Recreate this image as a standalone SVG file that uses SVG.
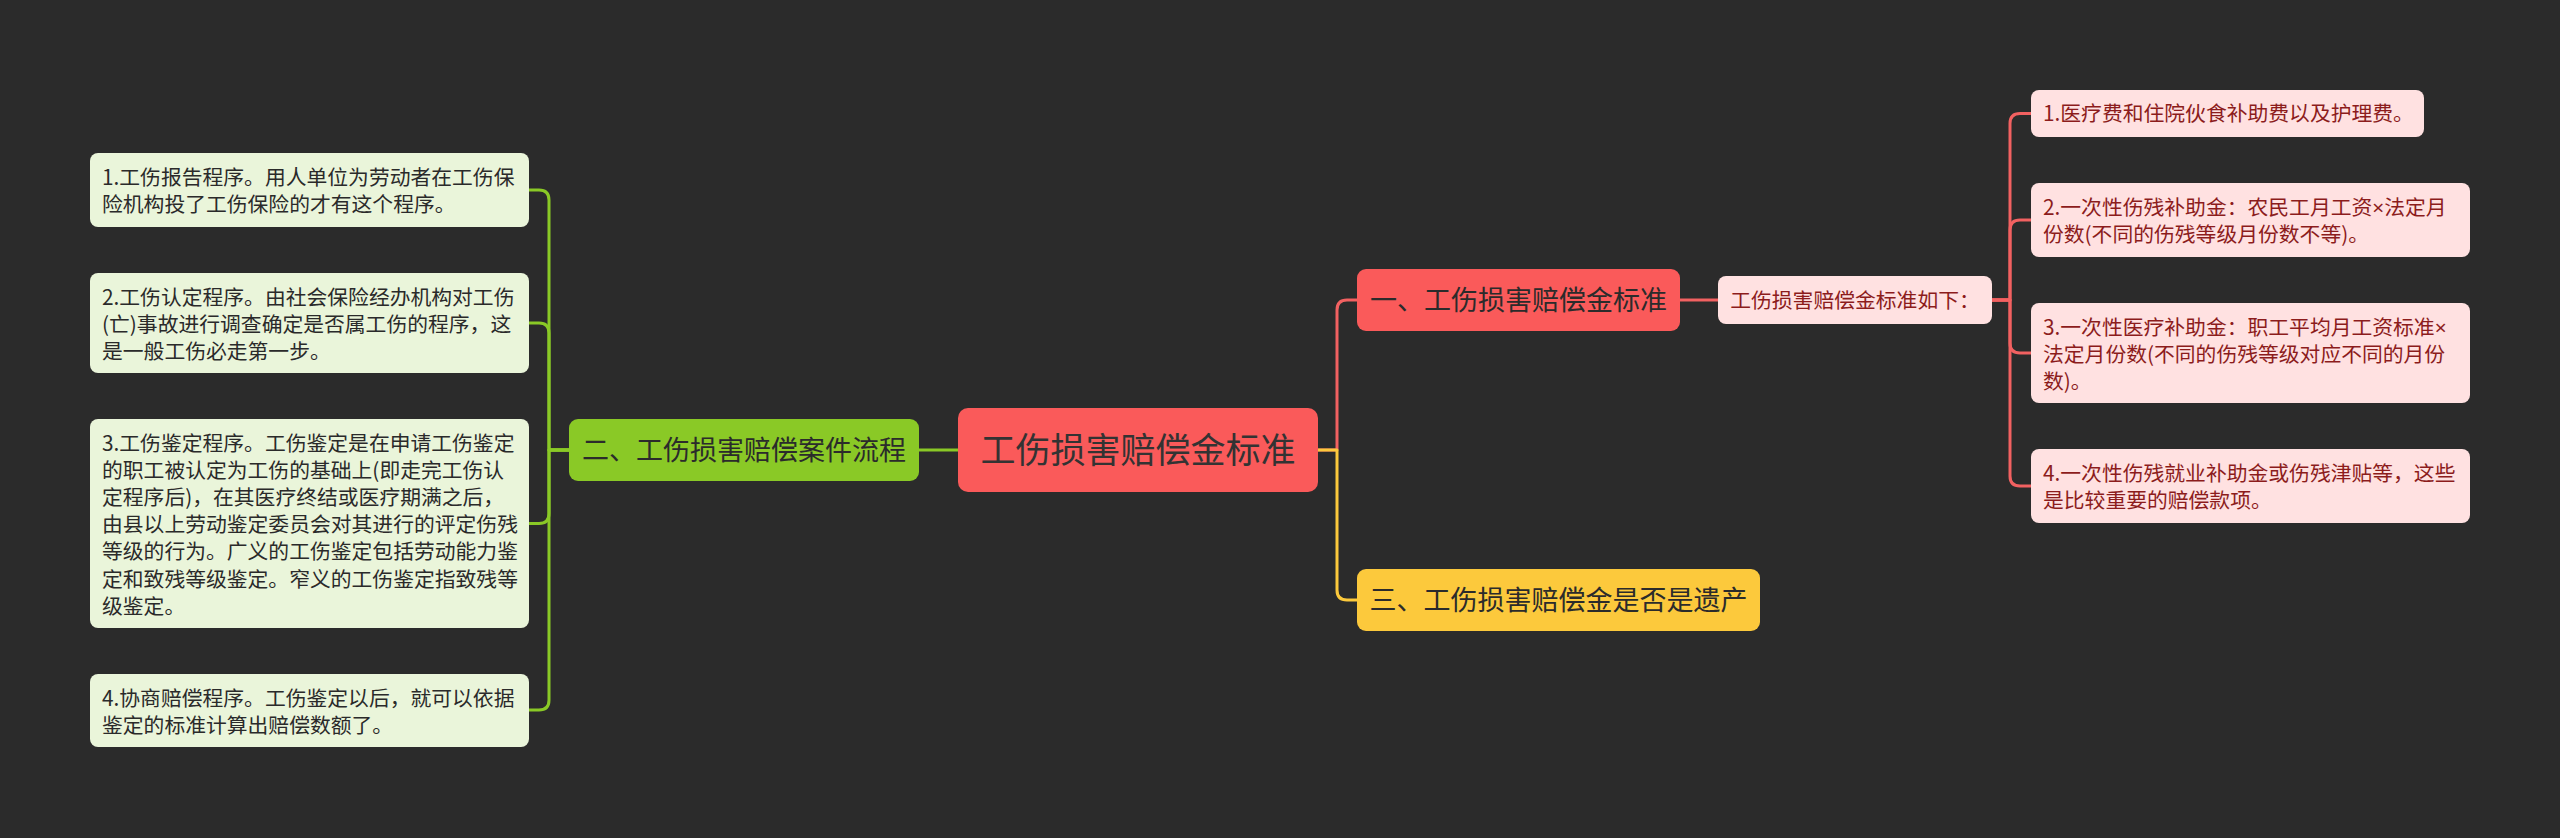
<svg xmlns="http://www.w3.org/2000/svg" width="2560" height="838" viewBox="0 0 2560 838">
<style>
text{font-family:"Noto Sans CJK SC","Noto Sans",sans-serif}
.x{font-family:"Noto Sans",sans-serif}
.c{fill:none;stroke-width:3;stroke-linecap:round;stroke-linejoin:round}
.cg{stroke:#8ac926}
.cr{stroke:#f26161}
.cy{stroke:#fcc93c}
.lg{fill:#eaf5da}
.lr{fill:#ffe1e1}
.tl{font-size:20.8px;fill:#2a2a2a}
.tr{font-size:20.8px;fill:#8c1c1c}
.t1{font-size:27px;fill:#2b2b2b;text-anchor:middle}
</style>
<rect width="2560" height="838" fill="#2b2b2b"/>
<g id="connectors">
<path class="c cg" d="M569 450 H549 V200 Q549 190 539 190 H529"/>
<path class="c cg" d="M569 450 H549 V333 Q549 323 539 323 H529"/>
<path class="c cg" d="M569 450 H549 V513.5 Q549 523.5 539 523.5 H529"/>
<path class="c cg" d="M569 450 H549 V700 Q549 710 539 710 H529"/>
<path class="c cg" d="M919 450 H958"/>
<path class="c cr" d="M1318 450 H1337 V310 Q1337 300 1347 300 H1357"/>
<path class="c cy" d="M1318 450 H1337 V590 Q1337 600 1347 600 H1357"/>
<path class="c cr" d="M1680 300 H1718"/>
<path class="c cr" d="M1992 300 H2010 V123.5 Q2010 113.5 2020 113.5 H2031"/>
<path class="c cr" d="M1992 300 H2010 V230 Q2010 220 2020 220 H2031"/>
<path class="c cr" d="M1992 300 H2010 V343 Q2010 353 2020 353 H2031"/>
<path class="c cr" d="M1992 300 H2010 V476 Q2010 486 2020 486 H2031"/>
</g>
<g id="root">
<rect x="958" y="408" width="360" height="84" rx="10" fill="#fa5a5a"/>
<text x="1138" y="463" font-size="35" fill="#333" text-anchor="middle">工伤损害赔偿金标准</text>
</g>
<g id="n2">
<rect x="569" y="419" width="350" height="62" rx="9" fill="#8ac926"/>
<text class="t1" x="744" y="460">二、工伤损害赔偿案件流程</text>
</g>
<g id="n1">
<rect x="1357" y="269" width="323" height="62" rx="9" fill="#fa5a5a"/>
<text class="t1" x="1518.5" y="310">一、工伤损害赔偿金标准</text>
</g>
<g id="n3">
<rect x="1357" y="569" width="403" height="62" rx="9" fill="#fcc93c"/>
<text class="t1" x="1558.5" y="610">三、工伤损害赔偿金是否是遗产</text>
</g>
<g id="n1s">
<rect x="1718" y="276" width="274" height="48" rx="8" class="lr"/>
<text class="tr" x="1855" y="308" text-anchor="middle">工伤损害赔偿金标准如下：</text>
</g>
<g id="l1">
<rect x="90" y="153" width="439" height="74" rx="8" class="lg"/>
<text class="tl"><tspan x="102" y="184.6">1.工伤报告程序。用人单位为劳动者在工伤保</tspan><tspan x="102" y="211.8">险机构投了工伤保险的才有这个程序。</tspan></text>
</g>
<g id="l2">
<rect x="90" y="273" width="439" height="100" rx="8" class="lg"/>
<text class="tl"><tspan x="102" y="304.6">2.工伤认定程序。由社会保险经办机构对工伤</tspan><tspan x="102" y="331.8">(亡)事故进行调查确定是否属工伤的程序，这</tspan><tspan x="102" y="359">是一般工伤必走第一步。</tspan></text>
</g>
<g id="l3">
<rect x="90" y="419" width="439" height="209" rx="8" class="lg"/>
<text class="tl"><tspan x="102" y="450.6">3.工伤鉴定程序。工伤鉴定是在申请工伤鉴定</tspan><tspan x="102" y="477.8">的职工被认定为工伤的基础上(即走完工伤认</tspan><tspan x="102" y="505">定程序后)，在其医疗终结或医疗期满之后，</tspan><tspan x="102" y="532.2">由县以上劳动鉴定委员会对其进行的评定伤残</tspan><tspan x="102" y="559.4">等级的行为。广义的工伤鉴定包括劳动能力鉴</tspan><tspan x="102" y="586.6">定和致残等级鉴定。窄义的工伤鉴定指致残等</tspan><tspan x="102" y="613.8">级鉴定。</tspan></text>
</g>
<g id="l4">
<rect x="90" y="674" width="439" height="73" rx="8" class="lg"/>
<text class="tl"><tspan x="102" y="705.6">4.协商赔偿程序。工伤鉴定以后，就可以依据</tspan><tspan x="102" y="732.8">鉴定的标准计算出赔偿数额了。</tspan></text>
</g>
<g id="r1">
<rect x="2031" y="90" width="393" height="47" rx="8" class="lr"/>
<text class="tr" x="2043" y="121">1.医疗费和住院伙食补助费以及护理费。</text>
</g>
<g id="r2">
<rect x="2031" y="183" width="439" height="74" rx="8" class="lr"/>
<text class="tr"><tspan x="2043" y="214.6">2.一次性伤残补助金：农民工月工资<tspan class="x">×</tspan>法定月</tspan><tspan x="2043" y="241.8">份数(不同的伤残等级月份数不等)。</tspan></text>
</g>
<g id="r3">
<rect x="2031" y="303" width="439" height="100" rx="8" class="lr"/>
<text class="tr"><tspan x="2043" y="334.6">3.一次性医疗补助金：职工平均月工资标准<tspan class="x">×</tspan></tspan><tspan x="2043" y="361.8">法定月份数(不同的伤残等级对应不同的月份</tspan><tspan x="2043" y="389">数)。</tspan></text>
</g>
<g id="r4">
<rect x="2031" y="449" width="439" height="74" rx="8" class="lr"/>
<text class="tr"><tspan x="2043" y="480.6">4.一次性伤残就业补助金或伤残津贴等，这些</tspan><tspan x="2043" y="507.8">是比较重要的赔偿款项。</tspan></text>
</g>
</svg>
